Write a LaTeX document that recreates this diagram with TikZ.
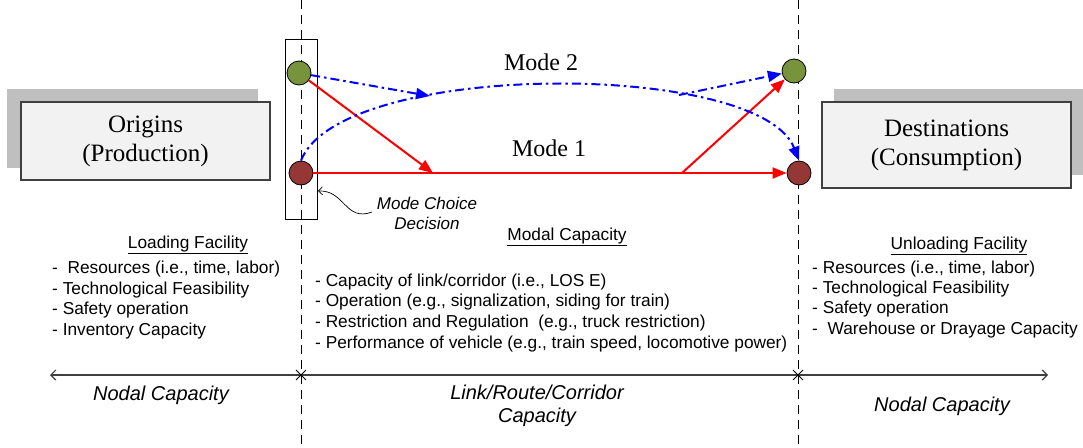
\documentclass[tikz,border=0pt]{standalone}
\usepackage{fontspec}
\setmainfont{Liberation Sans}
\newfontfamily\serifx{Liberation Serif}
\usetikzlibrary{arrows.meta,shapes.misc}
\definecolor{boxfill}{HTML}{F2F2F2}
\definecolor{boxborder}{HTML}{404040}
\definecolor{shadowgray}{HTML}{BFBFBF}
\definecolor{greendot}{HTML}{77933C}
\definecolor{reddot}{HTML}{953735}
\definecolor{axisgray}{HTML}{404040}
\tikzset{
  vline/.style={draw=black, line width=0.9pt, dash pattern=on 9pt off 6pt},
  shadowbox/.style={fill=shadowgray, draw=none, inner sep=0pt},
  mainbox/.style={fill=boxfill, draw=boxborder, line width=1.3pt, inner sep=0pt, align=center,
    font=\serifx\fontsize{25}{29}\selectfont},
  dot/.style={circle, draw=black, line width=0.8pt, minimum size=24pt, inner sep=0pt},
  redarrow/.style={draw=red, line width=2pt, -{Triangle[length=14pt,width=11pt]}},
  bluearrow/.style={draw=blue, line width=2pt, dash pattern=on 9pt off 4pt on 2.5pt off 4pt,
    -{Triangle[length=14pt,width=11pt]}},
  listtext/.style={font=\fontsize{17.3}{20}\selectfont, anchor=base west, inner sep=0pt},
  headtext/.style={font=\fontsize{17.3}{20}\selectfont, anchor=base, inner sep=0pt},
  modetext/.style={font=\serifx\fontsize{24}{28}\selectfont, inner sep=0pt},
  captext/.style={font=\itshape\fontsize{20}{23}\selectfont, anchor=base, inner sep=0pt},
  axisline/.style={draw=axisgray, line width=1.2pt},
  tickmark/.style={cross out, draw=black, line width=0.9pt, minimum size=9pt, inner sep=0pt},
}
\begin{document}
\begin{tikzpicture}[x=1pt,y=-1pt]
\useasboundingbox (0,0) rectangle (1083,447);
% dashed separators
\coordinate (v1t) at (301,0); \coordinate (v1b) at (301,447);
\coordinate (v2t) at (798,0); \coordinate (v2b) at (798,447);
\draw[vline] (v1t) -- (v1b);
\draw[vline] (v2t) -- (v2b);
% boxes
\node[shadowbox, minimum width=251pt, minimum height=79pt] (origsh) at (132.5,128.5) {};
\node[mainbox, minimum width=249pt, minimum height=78pt] (orig) at (145.5,141) {Origins\\(Production)};
\node[shadowbox, minimum width=249pt, minimum height=86pt] (destsh) at (958.5,132) {};
\node[mainbox, minimum width=249pt, minimum height=86pt] (dest) at (946.5,145) {Destinations\\(Consumption)};
% mode choice box
\node[draw=black, line width=0.8pt, minimum width=32pt, minimum height=180pt, inner sep=0pt] (mcbox) at (301,129) {};
% dots
\node[dot, fill=greendot] (go) at (299,73) {};
\node[dot, fill=reddot] (ro) at (301,173) {};
\node[dot, fill=greendot] (gd) at (794,71) {};
\node[dot, fill=reddot] (rd) at (799,173) {};
% junction coordinates
\coordinate (m1) at (433,173);
\coordinate (m2) at (682,173);
\coordinate (b1) at (430,96);
\coordinate (b2) at (679,95);
% red arrows
\draw[redarrow] (go) -- (m1);
\draw[redarrow] (ro) -- (rd);
\draw[redarrow] (m2) -- (gd);
% blue arrows
\draw[bluearrow] (go) -- (b1);
\draw[bluearrow] (ro.north) .. controls (340,60) and (760,60) .. (rd.north);
\draw[bluearrow] (b2) -- (gd);
% mode labels
\node[modetext] (mode2) at (541,62) {Mode 2};
\node[modetext] (mode1) at (549,148) {Mode 1};
% mode choice decision
\node[font=\itshape\fontsize{17}{20}\selectfont, align=center, inner sep=0pt] (mcd) at (427,213) {Mode Choice\\Decision};
\coordinate (c1) at (372,212);
\coordinate (mctip) at (318,191);
\draw[line width=0.7pt, -{Straight Barb[length=4pt,width=8pt]}] (c1) .. controls (345,222) and (345,190) .. (mctip);
% loading facility
\node[headtext] (lfh) at (188,248) {\underline{Loading Facility}};
\node[listtext] (lf1) at (52,273) {-\ \ Resources (i.e., time, labor)};
\node[listtext] (lf2) at (52,294) {- Technological Feasibility};
\node[listtext] (lf3) at (52,314) {- Safety operation};
\node[listtext] (lf4) at (52,335) {- Inventory Capacity};
% modal capacity
\node[headtext] (mch) at (567,240) {\underline{Modal Capacity}};
\node[listtext] (mc1) at (315,286) {- Capacity of link/corridor (i.e., LOS E)};
\node[listtext] (mc2) at (315,306.7) {- Operation (e.g., signalization, siding for train)};
\node[listtext] (mc3) at (315,327.4) {- Restriction and Regulation\ \ (e.g., truck restriction)};
\node[listtext] (mc4) at (315,348) {- Performance of vehicle (e.g., train speed, locomotive power)};
% unloading facility
\node[headtext] (ufh) at (959,249) {\underline{Unloading Facility}};
\node[listtext] (uf1) at (812,273) {- Resources (i.e., time, labor)};
\node[listtext] (uf2) at (812,293) {- Technological Feasibility};
\node[listtext] (uf3) at (812,313) {- Safety operation};
\node[listtext] (uf4) at (812,334) {-\ \ Warehouse or Drayage Capacity};
% axis
\coordinate (axl) at (50,375);
\coordinate (axr) at (1048,375);
\draw[axisline, {Straight Barb[length=5pt,width=10pt]}-{Straight Barb[length=5pt,width=10pt]}] (axl) -- (axr);
\node[tickmark] (t1) at (301,375) {};
\node[tickmark] (t2) at (798,375) {};
\node[captext] (nc1) at (161,400) {Nodal Capacity};
\node[captext] (lrc1) at (537,399) {Link/Route/Corridor};
\node[captext] (lrc2) at (537,422) {Capacity};
\node[captext] (nc2) at (942,411) {Nodal Capacity};
\end{tikzpicture}
\end{document}
